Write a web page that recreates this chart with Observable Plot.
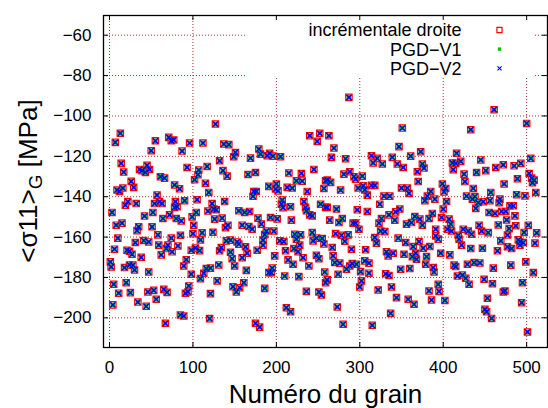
<!DOCTYPE html>
<html><head><meta charset="utf-8">
<script src="https://cdn.jsdelivr.net/npm/d3@7"></script>
<script src="https://cdn.jsdelivr.net/npm/@observablehq/plot@0.6"></script>
<style>body{margin:0;background:#fff}svg{display:block}</style>
</head><body><div id="chart"></div>
<script>
// [grain number, <sigma11>_G in MPa] (incremental solution)
const incrPoints = [
[13,-108.6],[7,-113.1],[55,-112.3],[71,-110.6],[74,-112.3],[77,-111.9],[50,-117.2],[96,-113.4],[87,-117.4],[112,-113.4],
[127,-104],[14,-123.5],[17,-127.8],[36,-126.5],[39,-127.1],[45,-124.5],[48,-126.5],[43,-128],[61,-130.1],[66,-130.8],
[26,-132.4],[29,-135.4],[9,-136.7],[12,-137.4],[16,-135.7],[78,-134.2],[84,-136.1],[93,-125.5],[107,-126.8],[106,-129.1],
[102,-131.6],[117,-125],[115,-133.3],[119,-137.9],[57,-139.2],[22,-142.4],[19,-144.2],[32,-143.4],[3,-147.8],[54,-143.4],
[60,-142.4],[63,-143.4],[79,-142.4],[90,-142],[78,-145.3],[81,-145],[105,-141.5],[123,-143.4],[104,-147.8],[99,-150],
[52,-147.8],[42,-149.6],[64,-150.8],[72,-149],[80,-150.8],[86,-152],[118,-147.1],[125,-146.1],
[8,-154.1],[15,-153.1],[101,-154.1],[35,-154.9],[33,-156.8],[51,-154.9],[10,-160.5],[31,-162.7],[41,-161.7],[47,-162.4],
[58,-158.9],[74,-160.5],[85,-159.1],[100,-158.3],[111,-157.9],[124,-157.6],[109,-161.4],[59,-164],[70,-164],[82,-164.4],
[68,-165.7],[75,-167.3],[6,-166],[21,-166.5],[24,-167],[27,-168.5],[38,-170],[62,-168.8],[98,-166.5],[103,-165.4],
[108,-166.7],[92,-171.2],[89,-174.3],[1,-172.3],[2,-174.8],[18,-175.1],[24,-173.8],[28,-173.9],[30,-176.3],[47,-177.3],
[98,-178.4],[109,-180.6],[113,-177.9],[116,-175.6],[121,-175.4],[5,-183.4],[20,-182.6],[11,-187.8],[25,-187.5],[46,-187.2],
[53,-186.4],[56,-190.8],[65,-185.9],[69,-187.4],[34,-192.2],[44,-194.3],[4,-193.6],[95,-184.2],[91,-187.8],[94,-187.2],
[121,-188],[85,-198.6],[89,-199.1],[67,-202.7],[120,-200.4],
[240,-109.8],[252,-108.6],[249,-112.6],[137,-113.9],[143,-114.2],[179,-116.4],[181,-118.9],[151,-118.1],[149,-120.2],[132,-122.2],
[169,-120.9],[189,-119.7],[192,-118.5],[196,-119.9],[205,-120.2],[136,-127.1],[141,-129.8],[166,-129],[175,-128],[215,-128.3],
[230,-128.5],[245,-126.5],[224,-132.1],[231,-132.3],[259,-132.1],[200,-133.7],[191,-134.9],[173,-137.4],[176,-137.4],[172,-139.8],
[199,-136.2],[202,-137.1],[213,-135.4],[219,-135.7],[237,-137.4],[257,-135.9],[138,-142.4],[128,-146.5],[207,-141.7],[206,-143.7],
[208,-145.4],[217,-145],[233,-142.4],[235,-145.3],[236,-147],[240,-149],[243,-149.5],[253,-143.7],[259,-145.3],[155,-147],
[162,-147.8],[168,-147.3],[135,-150.6],[178,-150.6],[193,-150.3],[201,-151],[218,-151.6],
[126,-151.1],[142,-154.1],[139,-155.3],[159,-154.1],[167,-154.8],[171,-156.1],[182,-153.6],[188,-157],[186,-158.8],[184,-161.5],
[184,-164],[197,-157],[134,-165.2],[132,-166.8],[140,-161.9],[145,-161.5],[153,-162.4],[155,-163.5],[145,-167.5],[163,-164.8],
[165,-168],[177,-166.5],[147,-170.7],[159,-170.2],[131,-173.8],[150,-174.3],[164,-176.5],[198,-169.3],[195,-175.4],[191,-177.6],
[194,-177.6],[129,-181.7],[148,-184.6],[156,-185.1],[161,-182.6],[152,-187.2],[186,-185.4],[204,-161.9],[209,-162.2],[211,-166.8],
[214,-171.3],[220,-173.5],[210,-179.3],[227,-179.6],[222,-158.6],[229,-158.9],[224,-161],[221,-165.7],[226,-167.2],[228,-164],
[232,-170.2],[239,-174.3],[243,-157.8],[244,-161.9],[248,-160.5],[255,-160.7],[257,-163.4],[248,-169],[251,-170.7],[258,-177.3],
[236,-186.9],[251,-187.2],[254,-188.7],[175,-202.7],[180,-204.6],[212,-195],[217,-197],
[287,-90.8],[263,-109.8],[351,-106],[269,-115.9],[347,-115.2],[373,-117.7],[266,-120.5],[283,-121.2],[314,-119.7],[321,-121],
[339,-120.5],[361,-119.9],[316,-123.3],[327,-123.8],[345,-123.8],[352,-125.5],[375,-123.8],[377,-125.8],[369,-127.6],[288,-127.6],
[281,-128.8],[293,-130.1],[295,-131.3],[303,-129.8],[261,-131.8],[265,-132.9],[370,-132.5],[298,-135.7],[304,-134.6],[306,-136.6],
[314,-134.4],[318,-134.4],[350,-135.7],[357,-135.7],[277,-136.7],[359,-138.4],[309,-139.2],[329,-139.7],[336,-139.7],[385,-137.4],
[381,-139.7],[378,-142],[390,-141.2],[324,-143.7],[261,-145.3],[272,-146.1],[297,-146.5],[309,-147.3],[348,-146.1],[343,-147.5],
[335,-149],[366,-149.8],[372,-151.1],[387,-148.3],[383,-150.8],[279,-150.8],[264,-151.6],[326,-150.8],[342,-151.6],
[275,-152.8],[292,-153.1],[295,-153.1],[299,-156.1],[323,-153.1],[356,-153.6],[362,-152.8],[375,-154.1],[271,-158.3],[278,-159.1],
[286,-158.9],[282,-162.1],[267,-165.2],[290,-166],[268,-169.3],[270,-172.6],[276,-172.9],[291,-173.1],[288,-174.3],[284,-175.9],
[296,-173.5],[306,-171.8],[311,-172.9],[301,-177.1],[311,-177.9],[274,-178.4],[261,-181.2],[259,-182.6],[302,-181.7],[300,-184.7],
[307,-166.3],[318,-160.2],[320,-163],[325,-157],[330,-157.3],[346,-160.5],[332,-167.3],[334,-169.3],[340,-168],[355,-162.7],
[364,-164.7],[371,-162.2],[376,-165.5],[384,-164.7],[353,-168.5],[367,-168],[363,-169.7],[368,-171],[380,-169.7],[379,-173.5],
[388,-175.1],[389,-177.3],[391,-156.1],[391,-159.4],[349,-175.9],[360,-175.6],[331,-178.2],[335,-179],[322,-186.2],[338,-184.7],
[344,-190],[358,-190.8],[365,-193.3],[383,-186.7],[386,-191.2],[273,-194.6],[337,-197.8],[280,-203.2],[315,-203.7],
[461,-96.9],[500,-103.7],[433,-106.8],[416,-118.5],[505,-121],[445,-121.8],[411,-123.3],[415,-123.5],[421,-122.5],[472,-124.2],
[463,-125.5],[485,-124.7],[493,-123.5],[412,-126.6],[451,-127.1],[440,-128],[425,-128.8],[503,-128.5],[506,-130.8],[509,-131.8],
[507,-133.1],[489,-131.1],[426,-132.5],[473,-133.7],[399,-133.7],[403,-135.9],[401,-137.6],[436,-135.9],[457,-137.9],[511,-137.9],
[488,-139],[498,-139.6],[428,-139.7],[438,-139.9],[435,-141.2],[404,-142.4],[442,-142.9],[448,-142.5],[456,-142],[468,-141.2],
[467,-143],[480,-144.5],[484,-144.5],[439,-145.8],[400,-146.1],[455,-147.8],[462,-148.3],[470,-147.3],[475,-147.3],[486,-149.5],
[398,-150.3],[407,-151.1],[476,-151.5],
[409,-153.6],[443,-154.1],[466,-154],[487,-154.4],[502,-154.1],[479,-155.8],[405,-156.1],[410,-157],[424,-156.1],[430,-157],
[434,-158.6],[446,-157],[454,-157.8],[497,-157.7],[512,-157.9],[477,-159],[394,-161],[418,-159.1],[419,-161],[422,-164],
[433,-165.7],[447,-165.5],[469,-161.9],[465,-166.8],[477,-164.8],[482,-165.7],[490,-161.4],[492,-162.4],[496,-162.7],[492,-164],
[510,-163],[397,-168],[408,-168.8],[429,-173.5],[437,-172.6],[444,-172.8],[413,-173.9],[415,-174.6],[460,-175.4],[481,-173.9],
[499,-172.3],[508,-177.6],[417,-179.3],[423,-178.8],[427,-180.4],[449,-180.9],[431,-183.4],[459,-183.1],[495,-182.6],[394,-183.4],
[395,-186.9],[472,-187.2],[474,-186.7],[402,-191.4],[453,-190.3],[494,-192.5],[450,-195.8],[452,-197],[458,-200.3],[501,-207]
];
const grains = incrPoints.map(d => d[0]);
const sigmaIncr = incrPoints.map(d => d[1]);
// Both PGD variants read identical to the incremental values at this resolution
const sigmaPGDV1 = sigmaIncr.slice();
const sigmaPGDV2 = sigmaIncr.slice();

const xTicks = [0, 100, 200, 300, 400, 500];
const yTicks = [-60, -80, -100, -120, -140, -160, -180, -200];
const seriesNames = ["incrémentale droite", "PGD\u2212V1", "PGD\u2212V2"];
const xLabel = "Numéro du grain";

const W = 548, H = 408, mL = 103, mR = 1, mT = 15, mB = 61;
const xDom = [-7.2, 525], yDom = [-214.7, -50.24];
const kx = (W - mL - mR) / (xDom[1] - xDom[0]);
const ky = (H - mT - mB) / (yDom[1] - yDom[0]);
const tx = 5 / kx, ty = 5 / ky;
const gridColor = "#a83232";
const font = "'Liberation Sans', Arial, Helvetica, sans-serif";

const data = grains.map((g, i) => ({g, a: sigmaIncr[i], b: sigmaPGDV1[i], c: sigmaPGDV2[i]}));

const redSq = {symbol: "square", r: 3.6, stroke: "#ff0000", strokeWidth: 1.2, fill: "none"};
const greenSq = {symbol: "square", r: 2.6, fill: "#00c000", stroke: "none"};
const blueX = {symbol: "times", r: 2.5, stroke: "#0000ff", strokeWidth: 1.4, fill: "none"};

const plot = Plot.plot({
  width: W, height: H,
  marginLeft: mL, marginRight: mR, marginTop: mT, marginBottom: mB,
  style: {fontFamily: font, fontSize: "17px", background: "white", color: "black"},
  x: {domain: xDom, label: null},
  y: {domain: yDom, label: null},
  marks: [
    Plot.gridX(xTicks, {stroke: gridColor, strokeOpacity: 1, strokeDasharray: "1,2"}),
    Plot.gridY(yTicks, {stroke: gridColor, strokeOpacity: 1, strokeDasharray: "1,2"}),
    // opaque key box hiding the grid behind the legend
    Plot.rect([0], {x1: () => 163, x2: () => 509.5, y1: () => -80.9, y2: () => yDom[1], fill: "white"}),
    Plot.dot(data, {x: "g", y: "a", ...redSq}),
    Plot.dot(data, {x: "g", y: "b", ...greenSq}),
    Plot.dot(data, {x: "g", y: "c", ...blueX}),
    // inward ticks on all four sides
    Plot.ruleY(yTicks, {y: d => d, x1: () => xDom[0], x2: () => xDom[0] + tx, stroke: "black"}),
    Plot.ruleY(yTicks, {y: d => d, x1: () => xDom[1] - tx, x2: () => xDom[1], stroke: "black"}),
    Plot.ruleX(xTicks, {x: d => d, y1: () => yDom[0], y2: () => yDom[0] + ty, stroke: "black"}),
    Plot.ruleX(xTicks, {x: d => d, y1: () => yDom[1] - ty, y2: () => yDom[1], stroke: "black"}),
    Plot.frame({stroke: "black", strokeWidth: 1.3}),
    Plot.axisX(xTicks, {tickSize: 0, tickPadding: 13, fontSize: 17, label: null}),
    Plot.axisY(yTicks, {tickSize: 0, tickPadding: 12, fontSize: 17, label: null}),
    // legend
    ...seriesNames.map((s, i) => Plot.text([s], {frameAnchor: "top-right", dx: -86, dy: 15 + i * 19.3, textAnchor: "end", lineAnchor: "middle", fontSize: 18})),
    Plot.dot([0], {frameAnchor: "top-right", dx: -48, dy: 14.5, ...redSq, r: 2.9}),
    Plot.dot([0], {frameAnchor: "top-right", dx: -48, dy: 33.6, ...greenSq, r: 1.9}),
    Plot.dot([0], {frameAnchor: "top-right", dx: -48, dy: 52.9, ...blueX, r: 2.0, strokeWidth: 1.1}),
    Plot.text([xLabel], {frameAnchor: "bottom", dy: 47.5, lineAnchor: "middle", fontSize: 26})
  ]
});

// y-axis title with subscript
const svg = d3.select(plot);
const yl = svg.append("text")
  .attr("transform", "translate(37,181) rotate(-90)")
  .attr("text-anchor", "middle")
  .attr("font-family", font)
  .attr("font-size", 26)
  .attr("fill", "black");
yl.append("tspan").text("<\u03c311>");
yl.append("tspan").attr("font-size", 19).attr("dy", 5).text("G");
yl.append("tspan").attr("dy", -5).text(" [MPa]");

document.getElementById("chart").appendChild(plot);
</script>
</body></html>
